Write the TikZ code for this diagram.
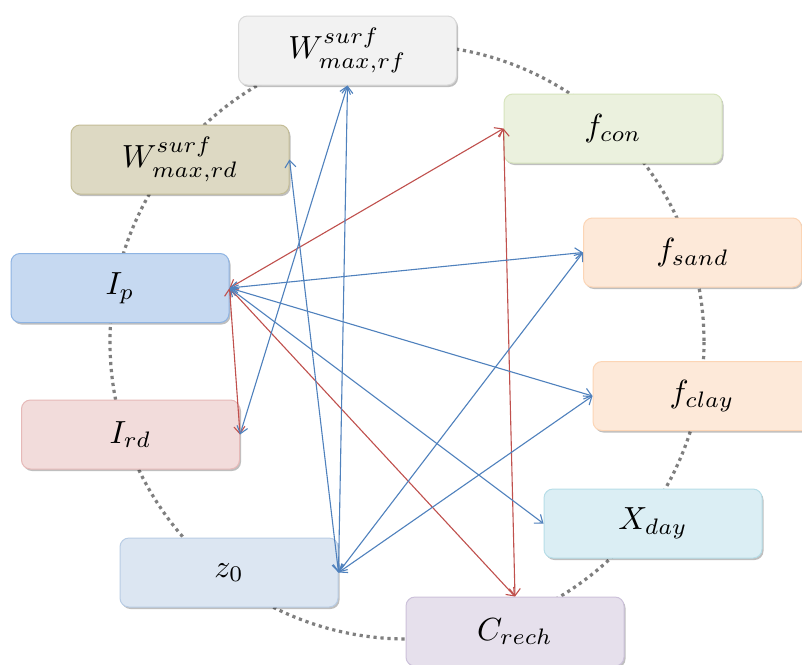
\documentclass[tikz,border=0pt]{standalone}
\usepackage{graphicx}
\usetikzlibrary{arrows.meta,shadows}
\definecolor{cblue}{HTML}{4F81BD}
\definecolor{cred}{HTML}{C0504D}
\definecolor{dotgray}{HTML}{7F7F7F}
\definecolor{fWrf}{HTML}{F2F2F2}\definecolor{dWrf}{HTML}{D9D9D9}
\definecolor{fWrd}{HTML}{DDD9C3}\definecolor{dWrd}{HTML}{C4BD97}
\definecolor{fcon}{HTML}{EBF1DE}\definecolor{dcon}{HTML}{D7E4BD}
\definecolor{fsoil}{HTML}{FDE9D9}\definecolor{dsoil}{HTML}{FCD5B5}
\definecolor{fIp}{HTML}{C6D9F1}\definecolor{dIp}{HTML}{8EB4E3}
\definecolor{fIrd}{HTML}{F2DCDB}\definecolor{dIrd}{HTML}{E6B9B8}
\definecolor{fX}{HTML}{DBEEF4}\definecolor{dX}{HTML}{B7DEE8}
\definecolor{fz}{HTML}{DCE6F2}\definecolor{dz}{HTML}{B9CDE5}
\definecolor{fC}{HTML}{E6E0EC}\definecolor{dC}{HTML}{CCC1DA}
\newcommand{\boxlabel}[1]{\scalebox{3.2}{$#1$}}
\tikzset{
  box/.style={rounded corners=9pt, minimum width=218pt, minimum height=69pt,
    inner sep=0pt, line width=1pt,
    drop shadow={shadow xshift=1.5pt, shadow yshift=-2pt, opacity=0.25, fill=black}},
  link/.style={line width=1.1pt, {Straight Barb[length=7pt,width=11pt]}-{Straight Barb[length=7pt,width=11pt]}},
  bl/.style={link, draw=cblue},
  rl/.style={link, draw=cred},
}
\begin{document}
\begin{tikzpicture}[x=1pt,y=-1pt]
\clip (0,0) rectangle (802,664);
\fill[white] (0,0) rectangle (802,664);
\draw[dotgray, line width=3.2pt, dash pattern=on 3.2pt off 3.8pt] (407,342) circle [radius=297];
\node[box, fill=fWrf, draw=dWrf] (Wrf) at (347.5,50.5) {\boxlabel{W^{surf}_{max,rf}}};
\node[box, fill=fWrd, draw=dWrd] (Wrd) at (180,159.5) {\boxlabel{W^{surf}_{max,rd}}};
\node[box, fill=fcon, draw=dcon] (fcon) at (613,128.5) {\boxlabel{f_{con}}};
\node[box, fill=fsoil, draw=dsoil] (fsand) at (692.5,252.5) {\boxlabel{f_{sand}}};
\node[box, fill=fIp, draw=dIp] (Ip) at (120,288) {\boxlabel{I_p}};
\node[box, fill=fsoil, draw=dsoil] (fclay) at (702,396) {\boxlabel{f_{clay}}};
\node[box, fill=fIrd, draw=dIrd] (Ird) at (130.5,434.5) {\boxlabel{I_{rd}}};
\node[box, fill=fX, draw=dX] (Xday) at (653,523.5) {\boxlabel{X_{day}}};
\node[box, fill=fz, draw=dz] (z0) at (229,572.5) {\boxlabel{z_0}};
\node[box, fill=fC, draw=dC] (Crech) at (515,631.5) {\boxlabel{C_{rech}}};
% red links
\draw[rl] (Ip.east) -- (fcon.west);
\draw[rl] (Ip.east) -- (Ird.east);
\draw[rl] (Ip.east) -- (Crech.north);
\draw[rl] (fcon.west) -- (Crech.north);
% blue links
\draw[bl] (Ip.east) -- (fsand.west);
\draw[bl] (Ip.east) -- (fclay.west);
\draw[bl] (Ip.east) -- (Xday.west);
\draw[bl] (Wrf.south) -- (Ird.east);
\draw[bl] (Wrf.south) -- (z0.east);
\draw[bl] (Wrd.east) -- (z0.east);
\draw[bl] (fsand.west) -- (z0.east);
\draw[bl] (fclay.west) -- (z0.east);
\end{tikzpicture}
\end{document}
